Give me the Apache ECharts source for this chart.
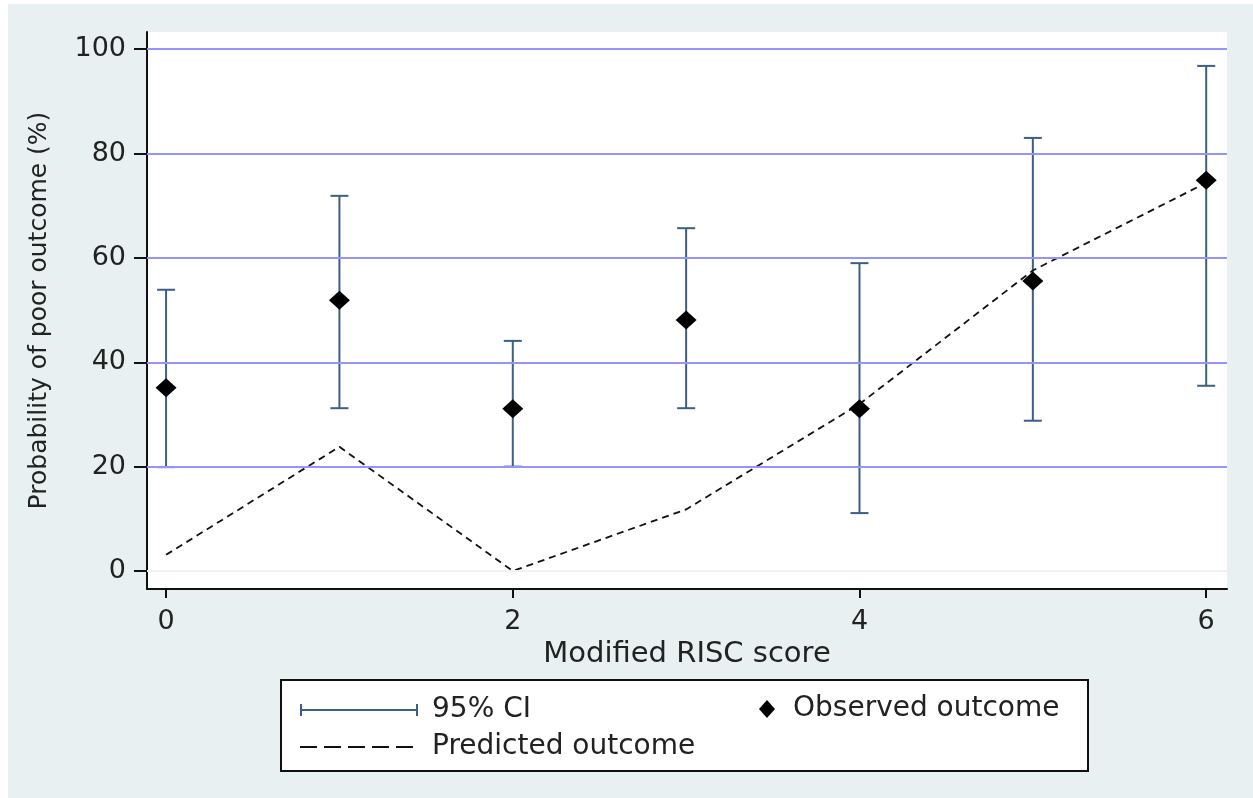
<!DOCTYPE html>
<html>
<head>
<meta charset="utf-8">
<script src="https://cdn.jsdelivr.net/npm/echarts@6/dist/echarts.min.js"></script>
<style>
  html, body { margin: 0; padding: 0; background: #ffffff; }
  #chart { position: absolute; left: 8px; top: 4px; width: 1245px; height: 794px; background: #e8f0f2; }
</style>
</head>
<body>
<div id="chart"></div>
<script>
// ---- data ----
const scores = [0, 1, 2, 3, 4, 5, 6];
const observed = [35.1, 51.9, 31.1, 48.1, 31.1, 55.6, 74.9];
const ciLower = [19.9, 31.2, 20.0, 31.2, 11.1, 28.8, 35.5];
const ciUpper = [53.9, 71.9, 44.1, 65.7, 59.0, 83.0, 96.8];
const predicted = [3.1, 23.8, 0.0, 11.8, 32.0, 57.6, 74.4];
const yTicks = [0, 20, 40, 60, 80, 100];
const xTicks = [0, 2, 4, 6];

const FONT = 'DejaVu Sans';
const CI_COLOR = '#3b5f86';
const GRID_COLOR = '#9494ff';

const ciData = scores.map((s, i) => [s, ciLower[i], ciUpper[i]]);
const obsData = scores.map((s, i) => [s, observed[i]]);
const predData = scores.map((s, i) => [s, predicted[i]]);

const chart = echarts.init(document.getElementById('chart'), null, { renderer: 'canvas' });

const option = {
  animation: false,
  backgroundColor: '#e8f0f2',
  textStyle: { fontFamily: FONT },
  grid: {
    left: 139, right: 26, top: 28, bottom: 209,
    show: true, backgroundColor: '#ffffff', borderWidth: 0
  },
  xAxis: {
    type: 'value',
    min: -0.11, max: 6.12,
    name: 'Modified RISC score',
    nameLocation: 'middle',
    nameGap: 39,
    nameTextStyle: { fontFamily: FONT, fontSize: 29, color: '#222' },
    axisLine: { show: true, onZero: false, lineStyle: { color: '#111', width: 2 } },
    axisTick: { show: true, length: 9, lineStyle: { color: '#111', width: 2 }, customValues: xTicks },
    axisLabel: { show: true, margin: 19, fontFamily: FONT, fontSize: 27, color: '#222', customValues: xTicks },
    splitLine: { show: false }
  },
  yAxis: {
    type: 'value',
    min: -3.45, max: 103.3,
    name: 'Probability of poor outcome (%)',
    nameLocation: 'middle',
    nameGap: 95,
    nameTextStyle: { fontFamily: FONT, fontSize: 25, color: '#222' },
    axisLine: { show: true, onZero: false, lineStyle: { color: '#111', width: 2 } },
    axisTick: { show: true, length: 13, lineStyle: { color: '#111', width: 2 }, customValues: yTicks },
    axisLabel: { show: true, margin: 21, fontFamily: FONT, fontSize: 27, color: '#222', customValues: yTicks },
    splitLine: { show: false }
  },
  graphic: [{
    type: 'rect',
    z: 1,
    shape: { x: 273, y: 676, width: 807, height: 91 },
    style: { fill: '#ffffff', stroke: '#111', lineWidth: 2 }
  }],
  legend: [
    {
      orient: 'vertical',
      left: 287, top: 686,
      itemGap: 7,
      selectedMode: false,
      z: 5,
      textStyle: { fontFamily: FONT, fontSize: 28, color: '#222', lineHeight: 30 },
      data: [
        {
          name: '95% CI',
          icon: 'path://M0,0h2v12h-2z M0,5h118v2h-118z M116,0h2v12h-2z M127,6L127,6',
          itemStyle: { color: CI_COLOR, borderWidth: 0 }
        },
        {
          name: 'Predicted outcome',
          icon: 'path://M0,5h17v2h-17z M24,5h17v2h-17z M48,5h17v2h-17z M72,5h17v2h-17z M96,5h17v2h-17z M127,0L127,12',
          itemStyle: { color: '#111', borderWidth: 0 }
        }
      ],
      itemWidth: 127, itemHeight: 12
    },
    {
      orient: 'vertical',
      left: 746, top: 685,
      selectedMode: false,
      z: 5,
      textStyle: { fontFamily: FONT, fontSize: 28, color: '#222', lineHeight: 30 },
      data: [
        {
          name: 'Observed outcome',
          icon: 'path://M8,0L16,9L8,18L0,9Z M29,9L29,9',
          itemStyle: { color: '#000', borderWidth: 0, opacity: 1 }
        }
      ],
      itemWidth: 29, itemHeight: 18
    }
  ],
  series: [
    {
      name: 'gridlines',
      type: 'line',
      data: [],
      silent: true,
      z: 1,
      markLine: {
        silent: true,
        symbol: ['none', 'none'],
        label: { show: false },
        animation: false,
        data: yTicks.map(v => ({
          yAxis: v,
          lineStyle: { color: v === 0 ? '#eef2f5' : GRID_COLOR, width: 2, type: 'solid' }
        }))
      }
    },
    {
      name: '95% CI',
      type: 'custom',
      z: 3,
      itemStyle: { color: CI_COLOR },
      data: ciData,
      encode: { x: 0, y: [1, 2] },
      renderItem: function (params, api) {
        const x = api.value(0);
        const lo = api.coord([x, api.value(1)]);
        const hi = api.coord([x, api.value(2)]);
        const hw = 9;
        const style = { stroke: CI_COLOR, lineWidth: 2, fill: null };
        return {
          type: 'group',
          children: [
            { type: 'line', shape: { x1: lo[0], y1: lo[1], x2: hi[0], y2: hi[1] }, style: style },
            { type: 'line', shape: { x1: hi[0] - hw, y1: hi[1], x2: hi[0] + hw, y2: hi[1] }, style: style },
            { type: 'line', shape: { x1: lo[0] - hw, y1: lo[1], x2: lo[0] + hw, y2: lo[1] }, style: style }
          ]
        };
      }
    },
    {
      name: 'Predicted outcome',
      type: 'line',
      z: 4,
      data: predData,
      color: '#111',
      symbol: 'none',
      lineStyle: { color: '#111', width: 1.8, type: [7, 5] }
    },
    {
      name: 'Observed outcome',
      type: 'scatter',
      z: 5,
      data: obsData,
      symbol: 'diamond',
      symbolSize: [21, 19],
      itemStyle: { color: '#000', opacity: 1 }
    }
  ]
};

chart.setOption(option);
</script>
</body>
</html>
